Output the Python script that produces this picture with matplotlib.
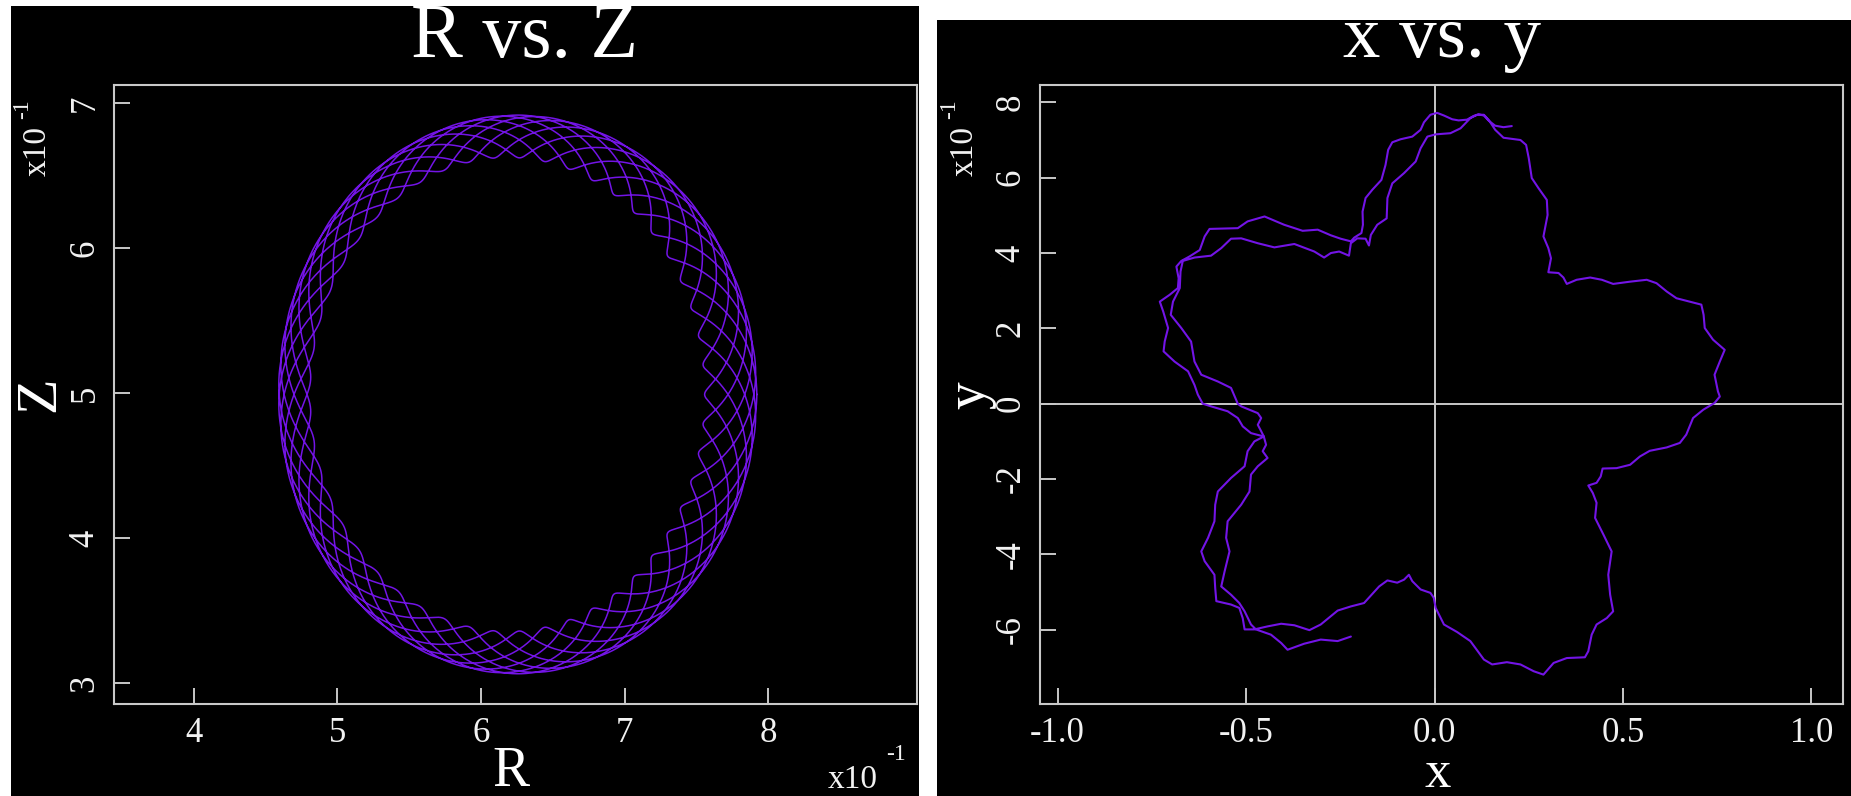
import numpy as np
import matplotlib
matplotlib.use("Agg")
import matplotlib.pyplot as plt
from matplotlib.patches import Rectangle

plt.rcParams['font.family'] = ['Liberation Serif', 'DejaVu Serif']

# ---------------- data ----------------
# x vs. y trajectory (real units), traced from one end to the other
XY_X = [0.205, 0.183, 0.161, 0.144, 0.131, 0.117, 0.104, 0.086, 0.064, 0.047, 0.025, 0.007, -0.011, -0.028, -0.037,
        -0.059, -0.090, -0.112, -0.123, -0.130, -0.141, -0.165, -0.183, -0.191, -0.190, -0.194, -0.213, -0.222, -0.249, -0.275,
        -0.310, -0.350, -0.399, -0.451, -0.496, -0.522, -0.597, -0.610, -0.623, -0.650, -0.672, -0.685, -0.679, -0.681, -0.703,
        -0.729, -0.720, -0.707, -0.716, -0.719, -0.690, -0.654, -0.637, -0.628, -0.615,
        -0.593, -0.549, -0.522, -0.509, -0.487, -0.453, -0.478, -0.496, -0.504, -0.540, -0.575, -0.582, -0.584, -0.601, -0.619,
        -0.610, -0.584, -0.582, -0.579, -0.540, -0.518, -0.509, -0.504, -0.478, -0.443, -0.407, -0.372, -0.332, -0.302, -0.257,
        -0.222, -0.187, -0.147, -0.125, -0.099, -0.081, -0.068, -0.059, -0.037, -0.011, -0.002, 0.003, 0.025, 0.060, 0.095,
        0.131, 0.153, 0.192, 0.228, 0.263, 0.289, 0.316, 0.351, 0.399, 0.408, 0.417, 0.430, 0.457, 0.474, 0.466, 0.461, 0.470,
        0.448, 0.426, 0.430, 0.420, 0.408, 0.430, 0.441, 0.446, 0.483, 0.519, 0.545, 0.571, 0.616, 0.651, 0.668, 0.686, 0.713,
        0.743, 0.757, 0.752, 0.743, 0.757, 0.770, 0.739, 0.717, 0.714, 0.708, 0.677, 0.642, 0.616, 0.589, 0.563, 0.519, 0.474,
        0.444, 0.413, 0.377, 0.351, 0.342, 0.329, 0.302, 0.309, 0.302, 0.289, 0.300, 0.298, 0.276, 0.258, 0.250, 0.243, 0.228,
        0.183, 0.161, 0.144, 0.131, 0.113, 0.095, 0.069, 0.042, 0.003, -0.019, -0.037, -0.050, -0.081, -0.112, -0.125, -0.127,
        -0.152, -0.169, -0.174, -0.183, -0.205, -0.222, -0.227, -0.253, -0.275, -0.293, -0.319, -0.372, -0.425, -0.469, -0.513,
        -0.540, -0.566, -0.593, -0.637, -0.668, -0.674, -0.676, -0.694, -0.700, -0.672, -0.646, -0.637, -0.619, -0.575, -0.540,
        -0.522, -0.513, -0.469, -0.460, -0.469, -0.460, -0.453, -0.447, -0.456, -0.443, -0.469, -0.487, -0.491, -0.513, -0.549,
        -0.553, -0.544, -0.557, -0.566, -0.540, -0.518, -0.504, -0.487, -0.474, -0.434, -0.407, -0.390, -0.346, -0.302, -0.257,
        -0.222]
XY_Y = [0.737, 0.734, 0.738, 0.751, 0.765, 0.768, 0.764, 0.754, 0.752, 0.755, 0.765, 0.772, 0.767, 0.747, 0.727,
        0.709, 0.702, 0.694, 0.674, 0.634, 0.594, 0.568, 0.546, 0.510, 0.475, 0.453, 0.441, 0.431, 0.438, 0.447,
        0.462, 0.459, 0.475, 0.497, 0.484, 0.466, 0.464, 0.444, 0.408, 0.391, 0.379, 0.364, 0.333, 0.307, 0.289,
        0.271, 0.245, 0.201, 0.165, 0.139, 0.112, 0.086, 0.050, 0.024, 0.000,
        -0.007, -0.020, -0.038, -0.060, -0.078, -0.087, -0.100, -0.126, -0.166, -0.197, -0.233, -0.268, -0.312, -0.356, -0.392,
        -0.418, -0.454, -0.489, -0.524, -0.533, -0.542, -0.569, -0.599, -0.599, -0.591, -0.584, -0.588, -0.601, -0.586, -0.549,
        -0.538, -0.529, -0.485, -0.469, -0.475, -0.467, -0.454, -0.471, -0.493, -0.502, -0.515, -0.542, -0.586, -0.606, -0.630,
        -0.679, -0.692, -0.686, -0.692, -0.710, -0.719, -0.688, -0.675, -0.673, -0.657, -0.613, -0.586, -0.569, -0.551, -0.507,
        -0.454, -0.392, -0.347, -0.303, -0.263, -0.237, -0.217, -0.210, -0.193, -0.172, -0.171, -0.162, -0.140, -0.125, -0.116,
        -0.104, -0.082, -0.038, -0.016, 0.002, 0.019, 0.033, 0.077, 0.112, 0.143, 0.170, 0.201, 0.236, 0.263, 0.271, 0.280,
        0.298, 0.320, 0.329, 0.324, 0.318, 0.329, 0.335, 0.329, 0.318, 0.335, 0.347, 0.349, 0.386, 0.413, 0.444, 0.501, 0.541,
        0.572, 0.599, 0.652, 0.687, 0.700, 0.706, 0.727, 0.753, 0.767, 0.767, 0.758, 0.731, 0.718, 0.715, 0.709, 0.678, 0.643,
        0.612, 0.585, 0.546, 0.492, 0.475, 0.448, 0.420, 0.438, 0.439, 0.426, 0.393, 0.404, 0.400, 0.388, 0.404, 0.424, 0.415,
        0.426, 0.439, 0.438, 0.413, 0.393, 0.388, 0.379, 0.351, 0.307, 0.271, 0.236, 0.201, 0.165, 0.112, 0.077, 0.059, 0.042,
        0.000, -0.007, -0.025, -0.038, -0.056, -0.073, -0.087, -0.109, -0.126, -0.144, -0.166, -0.188, -0.233, -0.268, -0.312,
        -0.356, -0.392, -0.445, -0.485, -0.507, -0.529, -0.551, -0.586, -0.599, -0.613, -0.635, -0.653, -0.637, -0.626, -0.630,
        -0.618]

RZ_CENTRE = [0.622, 0.499]        # centre of the band (R, Z)
RZ_GC_SEMI_AXES = [0.152, 0.178]  # half-width / half-height of the band mid-line
RZ_GYRO_OVER_R = [0.0235]         # band half-thickness relative to R
RZ_TURNS = [8.0]                  # number of poloidal turns seen
RZ_WIGGLES_PER_TURN = [7.125]     # gyration wiggles per turn

# ticks
RZ_R_TICKS = [0.4, 0.5, 0.6, 0.7, 0.8]
RZ_R_LABELS = ['4', '5', '6', '7', '8']
RZ_Z_TICKS = [0.3, 0.4, 0.5, 0.6, 0.7]
RZ_Z_LABELS = ['3', '4', '5', '6', '7']
XY_X_TICKS = [-1.0, -0.5, 0.0, 0.5, 1.0]
XY_X_LABELS = ['-1.0', '-0.5', '0.0', '0.5', '1.0']
XY_Y_TICKS = [-0.6, -0.4, -0.2, 0.0, 0.2, 0.4, 0.6, 0.8]
XY_Y_LABELS = ['-6', '-4', '-2', '0', '2', '4', '6', '8']

# ---------------- build R-Z orbit ----------------
Rc, Zc = RZ_CENTRE
a, b = RZ_GC_SEMI_AXES
theta = np.linspace(0.0, 2 * np.pi * RZ_TURNS[0], 16000)
Rgc = Rc + a * np.cos(theta)
Zgc = Zc + b * np.sin(theta)
rho = RZ_GYRO_OVER_R[0] * Rgc
psi = RZ_WIGGLES_PER_TURN[0] * theta
R_orb = Rgc + rho * np.cos(psi)
Z_orb = Zgc + rho * np.sin(psi)

# ---------------- figure ----------------
W, H = 1851, 796
fig = plt.figure(figsize=(W / 100, H / 100), dpi=100, facecolor='white')

def fx(px):
    return px / W

def fy(py):
    return 1 - py / H

# black panels (behind everything)
fig.patches.append(Rectangle((fx(11), fy(796)), fx(919) - fx(11), fy(6) - fy(796),
                             transform=fig.transFigure, facecolor='black', edgecolor='none', zorder=-10))
fig.patches.append(Rectangle((fx(937), fy(796)), fx(1851) - fx(937), fy(20) - fy(796),
                             transform=fig.transFigure, facecolor='black', edgecolor='none', zorder=-10))

LINE = '#7314e6'
SPINE = '#c8c8c8'
TXT = '#f2f2f2'

ax1 = fig.add_axes([fx(114), fy(704), fx(917) - fx(114), fy(85) - fy(704)], zorder=5)
ax2 = fig.add_axes([fx(1040), fy(704), fx(1843) - fx(1040), fy(85) - fy(704)], zorder=5)

for ax in (ax1, ax2):
    ax.set_facecolor('black')
    for s in ax.spines.values():
        s.set_color(SPINE)
        s.set_linewidth(1.5)
    ax.tick_params(which='both', direction='in', length=11.5, width=1.4, color=SPINE,
                   labelcolor=TXT, labelsize=25, top=False, right=False)
    ax.tick_params(axis='x', pad=9)
    ax.tick_params(axis='y', pad=9)

# left panel
ax1.plot(R_orb, Z_orb, color=LINE, lw=1.1)
ax1.set_xlim(0.3443, 0.9038)
ax1.set_ylim(0.2855, 0.7124)
ax1.set_xticks(RZ_R_TICKS)
ax1.set_xticklabels(RZ_R_LABELS)
ax1.set_yticks(RZ_Z_TICKS)
ax1.set_yticklabels(RZ_Z_LABELS, rotation=90, va='center')

# right panel
ax2.axhline(0, color=SPINE, lw=1.4, zorder=1)
ax2.axvline(0, color=SPINE, lw=1.4, zorder=1)
ax2.plot(XY_X, XY_Y, color=LINE, lw=1.5, solid_joinstyle='round', solid_capstyle='round', zorder=2)
ax2.set_xlim(-1.0469, 1.0839)
ax2.set_ylim(-0.797, 0.846)
ax2.set_xticks(XY_X_TICKS)
ax2.set_xticklabels(XY_X_LABELS)
ax2.set_yticks(XY_Y_TICKS)
ax2.set_yticklabels(XY_Y_LABELS, rotation=90, va='center')

# titles
fig.text(fx(524), fy(57), 'R vs. Z', color='white', fontsize=56, ha='center', va='baseline', zorder=6)
fig.text(fx(1442), fy(57), 'x vs. y', color='white', fontsize=54, ha='center', va='baseline', zorder=6)

# axis labels
fig.text(fx(511), fy(786), 'R', color='white', fontsize=40, ha='center', va='baseline', zorder=6)
fig.text(fx(1438), fy(787), 'x', color='white', fontsize=38, ha='center', va='baseline', zorder=6)
fig.text(fx(40), fy(394), 'Z', color='white', fontsize=42, ha='center', va='center', rotation=90, zorder=6)
fig.text(fx(970), fy(395), 'y', color='white', fontsize=40, ha='center', va='center', rotation=90, zorder=6)

# multipliers
fig.text(fx(22), fy(176), 'x10', color=TXT, fontsize=24, ha='left', va='bottom', rotation=90, zorder=6)
fig.text(fx(12), fy(119), '-1', color=TXT, fontsize=17, ha='left', va='bottom', rotation=90, zorder=6)
fig.text(fx(949), fy(176), 'x10', color=TXT, fontsize=24, ha='left', va='bottom', rotation=90, zorder=6)
fig.text(fx(939), fy(119), '-1', color=TXT, fontsize=17, ha='left', va='bottom', rotation=90, zorder=6)
fig.text(fx(828), fy(788), 'x10', color=TXT, fontsize=24, ha='left', va='baseline', zorder=6)
fig.text(fx(886), fy(760), '-1', color=TXT, fontsize=17, ha='left', va='baseline', zorder=6)

fig.savefig('out.png', dpi=100, facecolor='white')
